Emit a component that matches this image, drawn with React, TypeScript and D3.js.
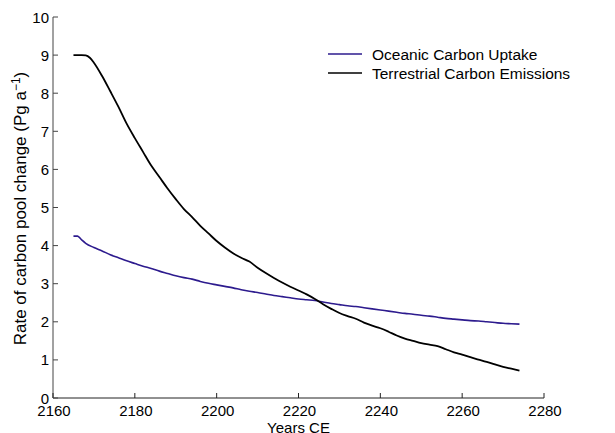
import React from "react";
import * as d3 from "d3";

const years: number[] = [2165, 2167, 2168, 2169, 2170, 2172, 2174, 2176, 2178, 2180, 2182, 2184, 2186, 2188, 2190, 2192, 2194, 2196, 2198, 2200, 2202, 2204, 2206, 2208, 2210, 2212, 2214, 2216, 2218, 2220, 2222, 2224, 2226, 2228, 2230, 2232, 2234, 2236, 2238, 2240, 2242, 2244, 2246, 2248, 2250, 2252, 2254, 2256, 2258, 2260, 2262, 2264, 2266, 2268, 2270, 2272, 2274];
const terrestrial: number[] = [9.0, 9.0, 8.99, 8.93, 8.8, 8.45, 8.05, 7.64, 7.2, 6.82, 6.46, 6.1, 5.8, 5.5, 5.22, 4.96, 4.75, 4.52, 4.32, 4.12, 3.95, 3.8, 3.68, 3.58, 3.42, 3.28, 3.15, 3.03, 2.92, 2.82, 2.72, 2.6, 2.46, 2.34, 2.23, 2.15, 2.08, 1.98, 1.9, 1.83, 1.74, 1.64, 1.56, 1.5, 1.44, 1.4, 1.36, 1.28, 1.2, 1.14, 1.07, 1.01, 0.95, 0.88, 0.82, 0.77, 0.72];

const oceanYears: number[] = [2165, 2166, 2167, 2168, 2170, 2172, 2174, 2176, 2178, 2180, 2182, 2184, 2186, 2188, 2190, 2192, 2194, 2196, 2198, 2200, 2202, 2204, 2206, 2208, 2210, 2212, 2214, 2216, 2218, 2220, 2222, 2224, 2226, 2228, 2230, 2232, 2234, 2236, 2238, 2240, 2242, 2244, 2246, 2248, 2250, 2252, 2254, 2256, 2258, 2260, 2262, 2264, 2266, 2268, 2270, 2272, 2274];
const oceanic: number[] = [4.25, 4.25, 4.15, 4.06, 3.95, 3.86, 3.76, 3.68, 3.6, 3.53, 3.46, 3.4, 3.33, 3.27, 3.21, 3.16, 3.12, 3.06, 3.01, 2.97, 2.93, 2.89, 2.84, 2.8, 2.77, 2.73, 2.69, 2.66, 2.63, 2.6, 2.58, 2.56, 2.52, 2.48, 2.45, 2.42, 2.4, 2.37, 2.34, 2.31, 2.28, 2.25, 2.22, 2.2, 2.17, 2.15, 2.12, 2.09, 2.07, 2.05, 2.03, 2.02, 2.0, 1.98, 1.96, 1.95, 1.94];

const xTicks: number[] = [2160, 2180, 2200, 2220, 2240, 2260, 2280];
const yTicks: number[] = [0, 1, 2, 3, 4, 5, 6, 7, 8, 9, 10];
const seriesNames: string[] = ["Oceanic Carbon Uptake", "Terrestrial Carbon Emissions"];
const seriesColors: string[] = ["#2d1b8e", "#000000"];

const W = 615;
const H = 433;
const FONT = "'Liberation Sans', Arial, Helvetica, sans-serif";

export default function App() {
  const x = d3.scaleLinear().domain([2160, 2280]).range([53, 544]);
  const y = d3.scaleLinear().domain([0, 10]).range([398, 17]);

  const line = d3
    .line<[number, number]>()
    .x((d) => x(d[0]))
    .y((d) => y(d[1]))
    .curve(d3.curveMonotoneX);

  const terr = years.map((yr, i) => [yr, terrestrial[i]] as [number, number]);
  const ocean = oceanYears.map((yr, i) => [yr, oceanic[i]] as [number, number]);

  const axisColor = "#222";

  return (
    <svg
      width={W}
      height={H}
      style={{ position: "absolute", left: 0, top: 0, background: "#fff" }}
      fontFamily={FONT}
    >
      {/* axes */}
      <line x1={x(2160)} x2={x(2280)} y1={y(0)} y2={y(0)} stroke={axisColor} strokeWidth={1} />
      <line x1={x(2160)} x2={x(2160)} y1={y(0)} y2={y(10)} stroke="#444" strokeWidth={1} />
      {xTicks.map((t) => (
        <g key={"x" + t}>
          <line x1={x(t)} x2={x(t)} y1={y(0)} y2={y(0) - 5} stroke={axisColor} strokeWidth={1} />
          <text x={x(t) + 1} y={416} textAnchor="middle" fontSize={15} fill="#000">
            {t}
          </text>
        </g>
      ))}
      {yTicks.map((t) => (
        <g key={"y" + t}>
          <line x1={x(2160)} x2={x(2160) + 5} y1={y(t)} y2={y(t)} stroke="#444" strokeWidth={1} />
          <text x={x(2160) - 4} y={y(t) + 5.5} textAnchor="end" fontSize={15} fill="#000">
            {t}
          </text>
        </g>
      ))}
      <text x={(x(2160) + x(2280)) / 2} y={433} textAnchor="middle" fontSize={15} fill="#000">
        Years CE
      </text>
      <text
        transform={`translate(26, ${(y(0) + y(10)) / 2 + 1}) rotate(-90)`}
        textAnchor="middle"
        fontSize={17}
        fill="#000"
      >
        Rate of carbon pool change (Pg a
        <tspan dy={-6} fontSize={12}>−1</tspan>
        <tspan dy={6}>)</tspan>
      </text>

      {/* lines */}
      <path d={line(ocean) || ""} fill="none" stroke={seriesColors[0]} strokeWidth={1.6} />
      <path d={line(terr) || ""} fill="none" stroke={seriesColors[1]} strokeWidth={1.8} />

      {/* legend */}
      {seriesNames.map((name, i) => (
        <g key={name} transform={`translate(0, ${54 + i * 19})`}>
          <line x1={328} x2={362} y1={0} y2={0} stroke={seriesColors[i]} strokeWidth={1.6} />
          <text x={372} y={5.5} fontSize={15.5} fill="#000">
            {name}
          </text>
        </g>
      ))}
    </svg>
  );
}
